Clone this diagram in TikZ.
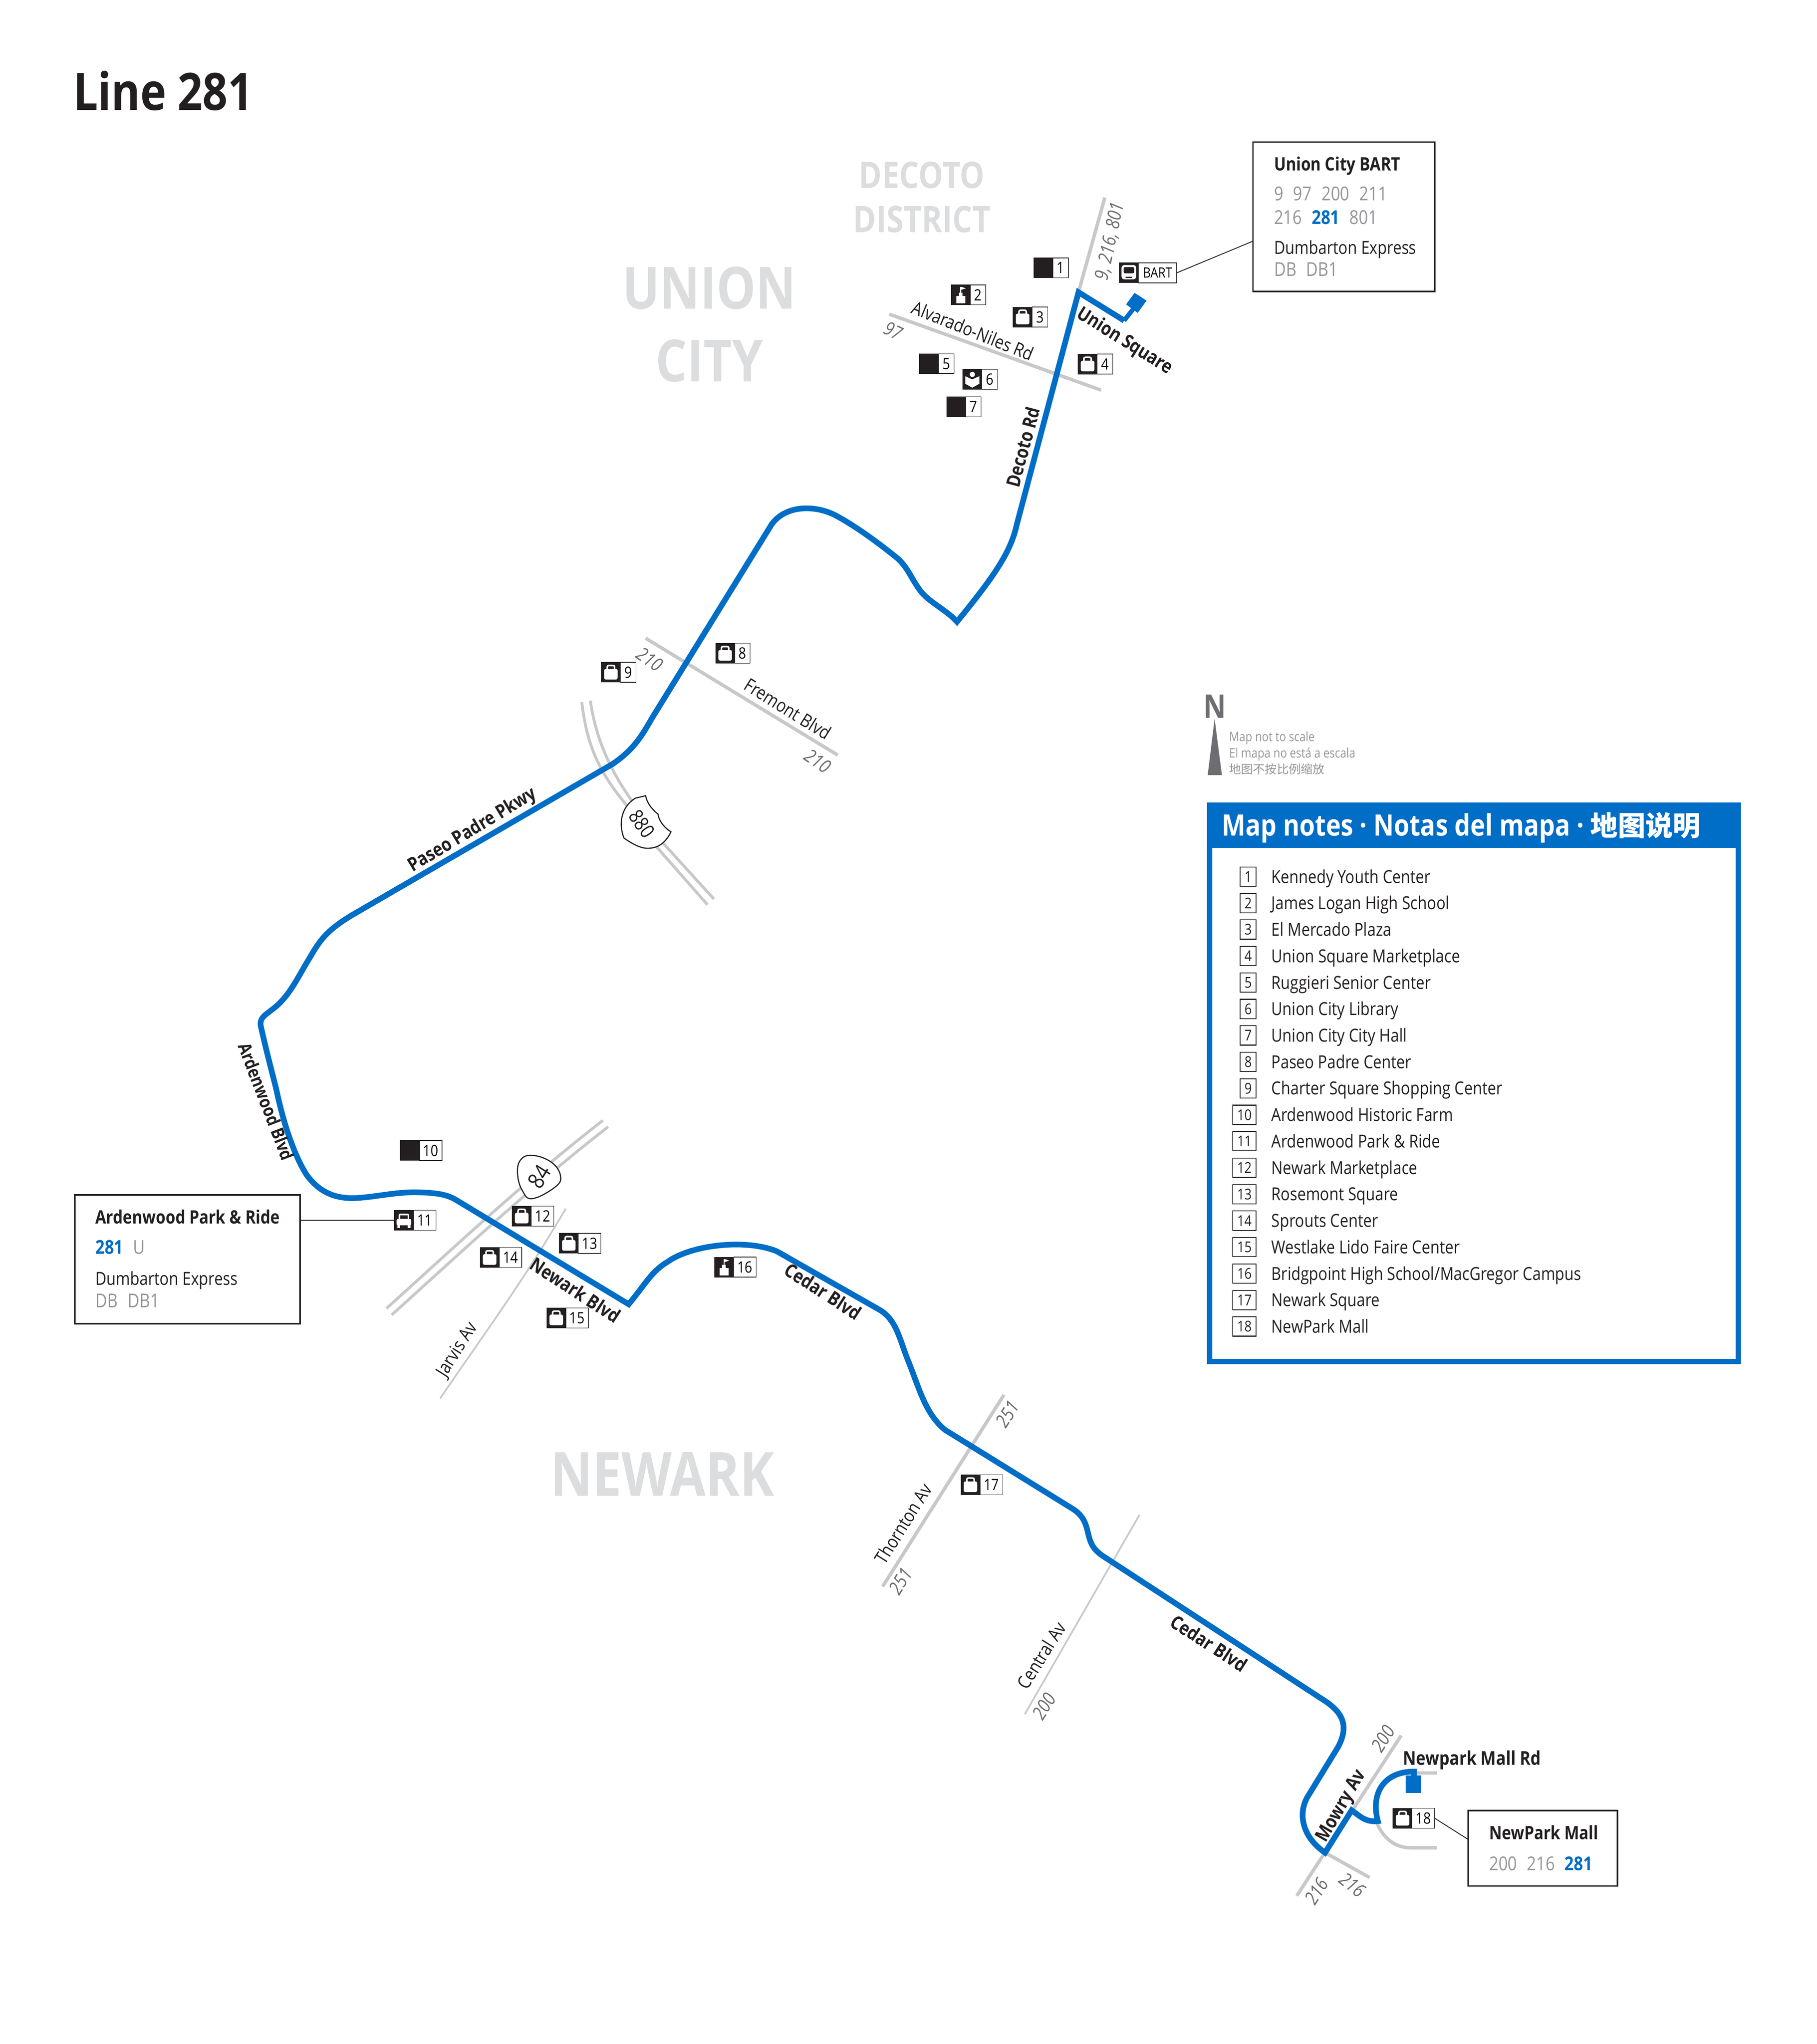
\documentclass[tikz,border=0pt]{standalone}
\usepackage{fontspec}
\setmainfont{Open Sans}[FakeStretch=0.85]
\newfontfamily\cjkfont{Noto Sans CJK SC}
\usetikzlibrary{positioning}
\definecolor{routeblue}{HTML}{006DC6}
\definecolor{inkdark}{HTML}{231F20}
\definecolor{roadgray}{HTML}{C7C8CA}
\definecolor{busgray}{HTML}{939598}
\definecolor{numgray}{HTML}{6D6E71}
\definecolor{areagray}{HTML}{DCDDDE}
\newcommand{\busgap}{\hspace{.51em}}
\tikzset{
  bagicon/.pic={
    \fill[white,rounded corners=1.2] (-5.2,-2.6) rectangle (5.2,5.6);
    \draw[white,line width=1.1pt,rounded corners=1] (-2.8,-2) -- (-2.8,-5.2) -- (2.8,-5.2) -- (2.8,-2);
  },
  schoolicon/.pic={
    \fill[white] (-3.4,0.8) rectangle (3.4,6.4);
    \fill[white] (-1.4,-1.6) rectangle (1.4,1);
    \fill[white] (-0.4,-6.2) rectangle (0.4,-1);
    \fill[white] (0.4,-6.2) -- (4,-5) -- (0.4,-3.8) -- cycle;
  },
  bookicon/.pic={
    \fill[white] (0,-3.8) circle (2);
    \fill[white] (-5.4,-2.4) -- (0,0) -- (5.4,-2.4) -- (5.4,3.4) -- (0,6.4) -- (-5.4,3.4) -- cycle;
  },
  caricon/.pic={
    \fill[white,rounded corners=1] (-4,-5) rectangle (4,0);
    \fill[inkdark] (-2.8,-3.8) rectangle (2.8,-1);
    \fill[white,rounded corners=1] (-5.6,-1) rectangle (5.6,4);
    \fill[white] (-5,3.5) rectangle (-3,6);
    \fill[white] (3,3.5) rectangle (5,6);
  },
  busicon/.pic={
    \fill[white,rounded corners=2] (-5.6,-6) rectangle (5.6,5);
    \fill[inkdark,rounded corners=1] (-4,-4.4) rectangle (4,0.4);
    \fill[inkdark] (-2.4,3) rectangle (2.4,3.8);
  },
  iconbox/.style={fill=inkdark,draw=inkdark,line width=.3pt,anchor=west,inner sep=0pt,outer sep=0pt,minimum width=13.5pt,minimum height=14.1pt},
  numbox/.style={fill=white,draw=inkdark,line width=.4pt,inner sep=0pt,outer sep=0pt,minimum width=10.9pt,minimum height=14.1pt,font=\fontsize{11}{12}\selectfont},
  widebox/.style={numbox,minimum width=15.9pt},
  keybox/.style={fill=white,draw=inkdark,line width=.6pt,anchor=east,inner sep=0pt,outer sep=0pt,minimum width=11.2pt,minimum height=13.6pt,font=\fontsize{10.5}{11}\selectfont,text=inkdark},
  keywide/.style={keybox,minimum width=16.4pt},
  keytext/.style={anchor=west,inner sep=0pt,text=inkdark,text height=9pt,text depth=0pt,font=\fontsize{12.65}{13}\selectfont},
  callout/.style={draw=inkdark,line width=1.1pt,fill=white,inner sep=0pt,outer sep=0pt,anchor=north west},
  boxtext/.style={anchor=west,inner sep=0pt,text=inkdark,text height=9pt,text depth=0pt,font=\fontsize{12.7}{13}\selectfont},
  boxhead/.style={boxtext,font=\fontsize{13}{14}\selectfont\bfseries},
  busline/.style={boxtext,text=busgray,font=\fontsize{13.5}{14}\selectfont},
  streetname/.style={inner sep=0pt,anchor=center,text=inkdark,text height=9pt,text depth=0pt,font=\fontsize{13}{14}\selectfont},
  streetbold/.style={streetname,font=\fontsize{13.4}{14}\selectfont\bfseries},
  routenum/.style={inner sep=0pt,anchor=center,text=numgray,text height=9pt,text depth=0pt,font=\fontsize{13.4}{14}\selectfont\itshape},
  areaname/.style={inner sep=0pt,anchor=center,text=areagray,text height=29pt,text depth=0pt,font=\fontsize{41}{44}\selectfont\bfseries},
  areasmall/.style={areaname,text height=20.7pt,font=\fontsize{25.8}{30}\selectfont\bfseries},
  routeline/.style={draw=routeblue,line width=4pt,miter limit=8},
  majorroad/.style={draw=roadgray,line width=2.4pt},
  freeway/.style={draw=roadgray,line width=2pt},
  minorroad/.style={draw=roadgray,line width=1.2pt},
  leader/.style={draw=inkdark,line width=.6pt},
  shield/.style={draw=inkdark,fill=white,line width=.8pt},
  scalenote/.style={anchor=west,inner sep=0pt,text=busgray,text height=6.5pt,text depth=0pt,font=\fontsize{9.2}{10}\selectfont},
}
\begin{document}
\begin{tikzpicture}[x=0.03229cm,y=-0.03229cm]
\useasboundingbox (0,0) rectangle (1393.6,1568);
\fill[white] (0,0) rectangle (1393.6,1568);
\node[inner sep=0pt,anchor=west,text=inkdark,text height=25pt,text depth=0pt,font=\fontsize{36.4}{38}\selectfont\bfseries] (title) at (56,71) {Line 281};
\node[areaname] (uc1) at (544,221) {UNION};
\node[areaname] (uc2) at (544,277) {CITY};
\node[areasmall] (dd1) at (707,133) {DECOTO};
\node[areasmall] (dd2) at (707,167) {DISTRICT};
\node[areaname,text height=30.7pt,font=\fontsize{43}{44}\selectfont\bfseries] (nw1) at (508,1131) {NEWARK};

\draw[majorroad] (847.4,151.5) -- (827.2,224.2);
\draw[majorroad] (682.1,241) -- (844.5,299.3);
\draw[majorroad] (495.2,489.6) -- (642.6,579.3);
\draw[majorroad] (770,1070) -- (677,1217);
\draw[minorroad] (874,1162) -- (786,1315);
\draw[minorroad] (433.9,927.2) .. controls (400,985) and (370,1025) .. (337.6,1072.8);
\draw[freeway] (296.4,1003.7) .. controls (345,960) and (400,908) .. (462.4,859.5);
\draw[freeway] (300.4,1008.7) .. controls (349,965) and (404,913) .. (466.4,864.4);
\draw[freeway] (446.2,538.6) .. controls (450,570) and (458,590) .. (479.4,616.3) -- (503,649) -- (542.6,694);
\draw[freeway] (452.8,537.5) .. controls (456,560) and (464,585) .. (484,613.4) -- (507.9,646) -- (547.6,689.7);
\draw[majorroad] (1074.7,1331.3) -- (994.6,1454.3);
\draw[majorroad] (1016.3,1421.2) -- (1050.5,1440.3);
\draw[majorroad] (1084.5,1360) -- (1102.2,1360);
\draw[majorroad] (1055.7,1397.7) .. controls (1060,1408) and (1068,1417.5) .. (1082.5,1417.5) -- (1102.2,1417.5);

\draw[routeline] (862.2,245.9) -- (827.2,224.2) -- (779.8,402.6)
  .. controls (775,425) and (760,445) .. (734,477)
  .. controls (725,467) and (712,462) .. (705,452)
  .. controls (698,442) and (696,435) .. (688,428)
  .. controls (672,415) and (655,403) .. (642,396)
  .. controls (628,388) and (604,386) .. (592,402)
  -- (500,551)
  .. controls (492,565) and (486,575) .. (470,586)
  -- (270,702)
  .. controls (250,714) and (245,722) .. (238,734)
  .. controls (228,750) and (222,765) .. (208,775)
  .. controls (203,779) and (199,781) .. (200,787)
  .. controls (204,805) and (208,820) .. (212,836)
  .. controls (217,860) and (225,885) .. (235,901)
  .. controls (245,915) and (258,920) .. (274,919)
  .. controls (290,918) and (305,914) .. (322,914.7)
  .. controls (333,915) and (342,916) .. (349,920)
  -- (482.2,1000.5)
  .. controls (495,985) and (500,975) .. (512,968)
  .. controls (530,955) and (572,950) .. (596,960)
  -- (675,1005)
  .. controls (688,1013) and (690,1028) .. (697,1045)
  .. controls (705,1065) and (710,1085) .. (725,1097)
  -- (822,1157)
  .. controls (832,1163) and (833,1170) .. (835,1178)
  .. controls (837,1186) and (840,1190) .. (848,1195)
  -- (1013.3,1302.9)
  .. controls (1028,1312) and (1036,1322) .. (1026.2,1340.3)
  -- (1002.5,1379)
  .. controls (995,1393) and (1000,1410) .. (1016.3,1421.2)
  -- (1036.7,1388.7)
  .. controls (1043,1393) and (1047,1398) .. (1056.8,1397)
  .. controls (1051,1375) and (1062,1359) .. (1084.5,1359)
  -- (1084.5,1366);
\fill[routeblue] (870.2,224.7) -- (879.4,230.6) -- (872.6,240) -- (863.7,233.5) -- cycle;
\draw[routeblue,line width=3.2pt] (862.2,245.9) -- (870,236);
\fill[routeblue] (1078.2,1362) rectangle (1089.6,1375.5);

\draw[shield] plot[smooth cycle,tension=.7] coordinates {(399.2,889.9) (408.4,886.3) (422.8,891.5) (429.9,901.9) (425.9,910.5) (408.4,919.5) (400.8,913.6) (397,901)};
\node[inner sep=0pt,anchor=center,rotate=58,text=inkdark,font=\fontsize{16}{17}\selectfont] (sr84) at (413.5,902.5) {84};
\draw[shield] (495.2,610.4) .. controls (496,615) and (499,620) .. (504.7,624.5) .. controls (505,628) and (508,634) .. (514.6,638.1) .. controls (510,648) and (503,651) .. (496,650.7) .. controls (490,650.5) and (483,646) .. (478.6,642.9) .. controls (475,634) and (475,620) .. (487.3,612.3) -- cycle;
\node[inner sep=0pt,anchor=center,rotate=-55,text=inkdark,font=\fontsize{14}{15}\selectfont] (fw880) at (492.3,632) {880};

\node[iconbox] (i1) at (792.9,205.5) {};
\node[numbox,right=0pt of i1] (n1) {1};
\node[iconbox] (i2) at (729.5,226.2) {};
\node[numbox,right=0pt of i2] (n2) {2};
\node[iconbox] (i3) at (777,243.2) {};
\node[numbox,right=0pt of i3] (n3) {3};
\node[iconbox] (i4) at (826.8,279.3) {};
\node[numbox,right=0pt of i4] (n4) {4};
\node[iconbox] (i5) at (705.2,279) {};
\node[numbox,right=0pt of i5] (n5) {5};
\node[iconbox] (i6) at (738.4,291) {};
\node[numbox,right=0pt of i6] (n6) {6};
\node[iconbox] (i7) at (726,312) {};
\node[numbox,right=0pt of i7] (n7) {7};
\node[iconbox] (i8) at (548.8,501.2) {};
\node[numbox,right=0pt of i8] (n8) {8};
\node[iconbox] (i9) at (461.2,515.7) {};
\node[numbox,right=0pt of i9] (n9) {9};
\node[iconbox] (i10) at (307,882.6) {};
\node[widebox,right=0pt of i10] (n10) {10};
\node[iconbox] (i11) at (302.4,936) {};
\node[widebox,right=0pt of i11] (n11) {11};
\node[iconbox] (i12) at (392.8,932.9) {};
\node[widebox,right=0pt of i12] (n12) {12};
\node[iconbox] (i13) at (428.9,953.8) {};
\node[widebox,right=0pt of i13] (n13) {13};
\node[iconbox] (i14) at (368.2,964.7) {};
\node[widebox,right=0pt of i14] (n14) {14};
\node[iconbox] (i15) at (419.3,1011) {};
\node[widebox,right=0pt of i15] (n15) {15};
\node[iconbox] (i16) at (548,972) {};
\node[widebox,right=0pt of i16] (n16) {16};
\node[iconbox] (i17) at (737,1139) {};
\node[widebox,right=0pt of i17] (n17) {17};
\node[iconbox] (i18) at (1068.4,1394.8) {};
\node[widebox,right=0pt of i18] (n18) {18};
\node[iconbox] (ib) at (858.5,209.3) {};
\node[numbox,right=0pt of ib,minimum width=27pt,font=\fontsize{10}{11}\selectfont] (nb) {BART};
\pic at (i2) {schoolicon};
\pic at (i3) {bagicon};
\pic at (i4) {bagicon};
\pic at (i6) {bookicon};
\pic at (i8) {bagicon};
\pic at (i9) {bagicon};
\pic at (i11) {caricon};
\pic at (i12) {bagicon};
\pic at (i13) {bagicon};
\pic at (i14) {bagicon};
\pic at (i15) {bagicon};
\pic at (i16) {schoolicon};
\pic at (i17) {bagicon};
\pic at (i18) {bagicon};
\pic at (ib) {busicon};

\node[streetbold,rotate=75] (sdec) at (785,343) {Decoto Rd};
\node[streetbold,rotate=-32] (suni) at (863,261) {Union Square};
\node[streetname,rotate=-22] (salv) at (746,254) {Alvarado-Niles Rd};
\node[streetname,rotate=-32] (sfre) at (604,544) {Fremont Blvd};
\node[streetbold,rotate=31] (spas) at (362,636) {Paseo Padre Pkwy};
\node[streetbold,rotate=-69,font=\fontsize{12.6}{14}\selectfont\bfseries] (sard) at (204,845) {Ardenwood Blvd};
\node[streetbold,rotate=-33] (snew) at (441,990) {Newark Blvd};
\node[streetname,rotate=58] (sjar) at (350,1035) {Jarvis Av};
\node[streetbold,rotate=-33] (sced) at (631,991) {Cedar Blvd};
\node[streetname,rotate=58] (stho) at (693,1169) {Thornton Av};
\node[streetname,rotate=58] (scen) at (799,1270) {Central Av};
\node[streetbold,rotate=-33] (sced2) at (927,1261) {Cedar Blvd};
\node[streetbold,rotate=60] (smow) at (1028,1385) {Mowry Av};
\node[streetbold] (snpm) at (1129,1349) {Newpark Mall Rd};
\node[routenum,rotate=78] (r1) at (851,185) {9, 216, 801};
\node[routenum,rotate=-25] (r2) at (685,254) {97};
\node[routenum,rotate=-35] (r3) at (498,506) {210};
\node[routenum,rotate=-35] (r4) at (627,584) {210};
\node[routenum,rotate=58] (r5) at (773,1085) {251};
\node[routenum,rotate=58] (r6) at (691,1213) {251};
\node[routenum,rotate=58] (r7) at (801,1309) {200};
\node[routenum,rotate=58] (r8) at (1061,1334) {200};
\node[routenum,rotate=58] (r9) at (1010,1451) {216};
\node[routenum,rotate=-38] (r10) at (1037,1446) {216};

\node[callout,minimum width=128pt,minimum height=105.3pt] (boxu) at (961,109) {};
\coordinate (boxul) at (961,185);
\draw[leader] (nb.east) -- (boxul);
\node[boxhead] (u1) at (977,126) {Union City BART};
\node[busline] (u2) at (977,149) {9\busgap 97\busgap 200\busgap 211};
\node[busline] (u3) at (977,167) {216\busgap {\color{routeblue}\bfseries 281}\busgap 801};
\node[boxtext] (u4) at (977,190) {Dumbarton Express};
\node[busline] (u5) at (977,207) {DB\busgap DB1};

\node[callout,minimum width=158.6pt,minimum height=90.7pt] (boxa) at (57.5,916.7) {};
\coordinate (boxar) at (230.8,936);
\draw[leader] (boxar) -- (i11.west);
\node[boxhead] (a1) at (73,934) {Ardenwood Park \& Ride};
\node[busline] (a2) at (73,957) {{\color{routeblue}\bfseries 281}\busgap U};
\node[boxtext] (a3) at (73,981) {Dumbarton Express};
\node[busline] (a4) at (73,998) {DB\busgap DB1};

\node[callout,minimum width=105.3pt,minimum height=53.1pt] (boxn) at (1126,1389) {};
\coordinate (boxnl) at (1126,1411);
\draw[leader] (n18.east) -- (boxnl);
\node[boxhead] (m1) at (1142,1406) {NewPark Mall};
\node[busline] (m2) at (1142,1430) {200\busgap 216\busgap {\color{routeblue}\bfseries 281}};

\node[inner sep=0pt,anchor=center,text=numgray,text height=16.4pt,text depth=0pt,font=\fontsize{23}{24}\selectfont\bfseries] (north) at (931.6,542) {N};
\fill[numgray] (931.6,551.4) -- (937.2,594.6) -- (926.3,594.6) -- cycle;
\node[scalenote] (s1) at (942.6,565.2) {Map not to scale};
\node[scalenote] (s2) at (942.6,577.6) {El mapa no está a escala};
\node[scalenote,font=\fontsize{8.4}{9}\selectfont] (s3) at (942.6,590) {\cjkfont 地图不按比例缩放};

\draw[routeblue,line width=3.8pt] (927.8,617.8) rectangle (1333.2,1044.5);
\fill[routeblue] (925.7,615.7) rectangle (1335.3,650.5);
\node[anchor=west,inner sep=0pt,text=white,text height=15pt,text depth=0pt,font=\fontsize{20.8}{22}\selectfont\bfseries] (keyhead) at (937,633) {Map notes · Notas del mapa · {\cjkfont\fontsize{19.4}{22}\selectfont\bfseries 地图说明}};
\node[keybox] (k1) at (963.4,672.5) {1};
\node[keytext] (t1) at (975,672.5) {Kennedy Youth Center};
\node[keybox] (k2) at (963.4,692.8) {2};
\node[keytext] (t2) at (975,692.8) {James Logan High School};
\node[keybox] (k3) at (963.4,713.1) {3};
\node[keytext] (t3) at (975,713.1) {El Mercado Plaza};
\node[keybox] (k4) at (963.4,733.4) {4};
\node[keytext] (t4) at (975,733.4) {Union Square Marketplace};
\node[keybox] (k5) at (963.4,753.7) {5};
\node[keytext] (t5) at (975,753.7) {Ruggieri Senior Center};
\node[keybox] (k6) at (963.4,774) {6};
\node[keytext] (t6) at (975,774) {Union City Library};
\node[keybox] (k7) at (963.4,794.3) {7};
\node[keytext] (t7) at (975,794.3) {Union City City Hall};
\node[keybox] (k8) at (963.4,814.6) {8};
\node[keytext] (t8) at (975,814.6) {Paseo Padre Center};
\node[keybox] (k9) at (963.4,834.9) {9};
\node[keytext] (t9) at (975,834.9) {Charter Square Shopping Center};
\node[keywide] (k10) at (963.4,855.2) {10};
\node[keytext] (t10) at (975,855.2) {Ardenwood Historic Farm};
\node[keywide] (k11) at (963.4,875.5) {11};
\node[keytext] (t11) at (975,875.5) {Ardenwood Park \& Ride};
\node[keywide] (k12) at (963.4,895.8) {12};
\node[keytext] (t12) at (975,895.8) {Newark Marketplace};
\node[keywide] (k13) at (963.4,916.1) {13};
\node[keytext] (t13) at (975,916.1) {Rosemont Square};
\node[keywide] (k14) at (963.4,936.4) {14};
\node[keytext] (t14) at (975,936.4) {Sprouts Center};
\node[keywide] (k15) at (963.4,956.7) {15};
\node[keytext] (t15) at (975,956.7) {Westlake Lido Faire Center};
\node[keywide] (k16) at (963.4,977) {16};
\node[keytext] (t16) at (975,977) {Bridgpoint High School/MacGregor Campus};
\node[keywide] (k17) at (963.4,997.3) {17};
\node[keytext] (t17) at (975,997.3) {Newark Square};
\node[keywide] (k18) at (963.4,1017.6) {18};
\node[keytext] (t18) at (975,1017.6) {NewPark Mall};
\end{tikzpicture}
\end{document}
